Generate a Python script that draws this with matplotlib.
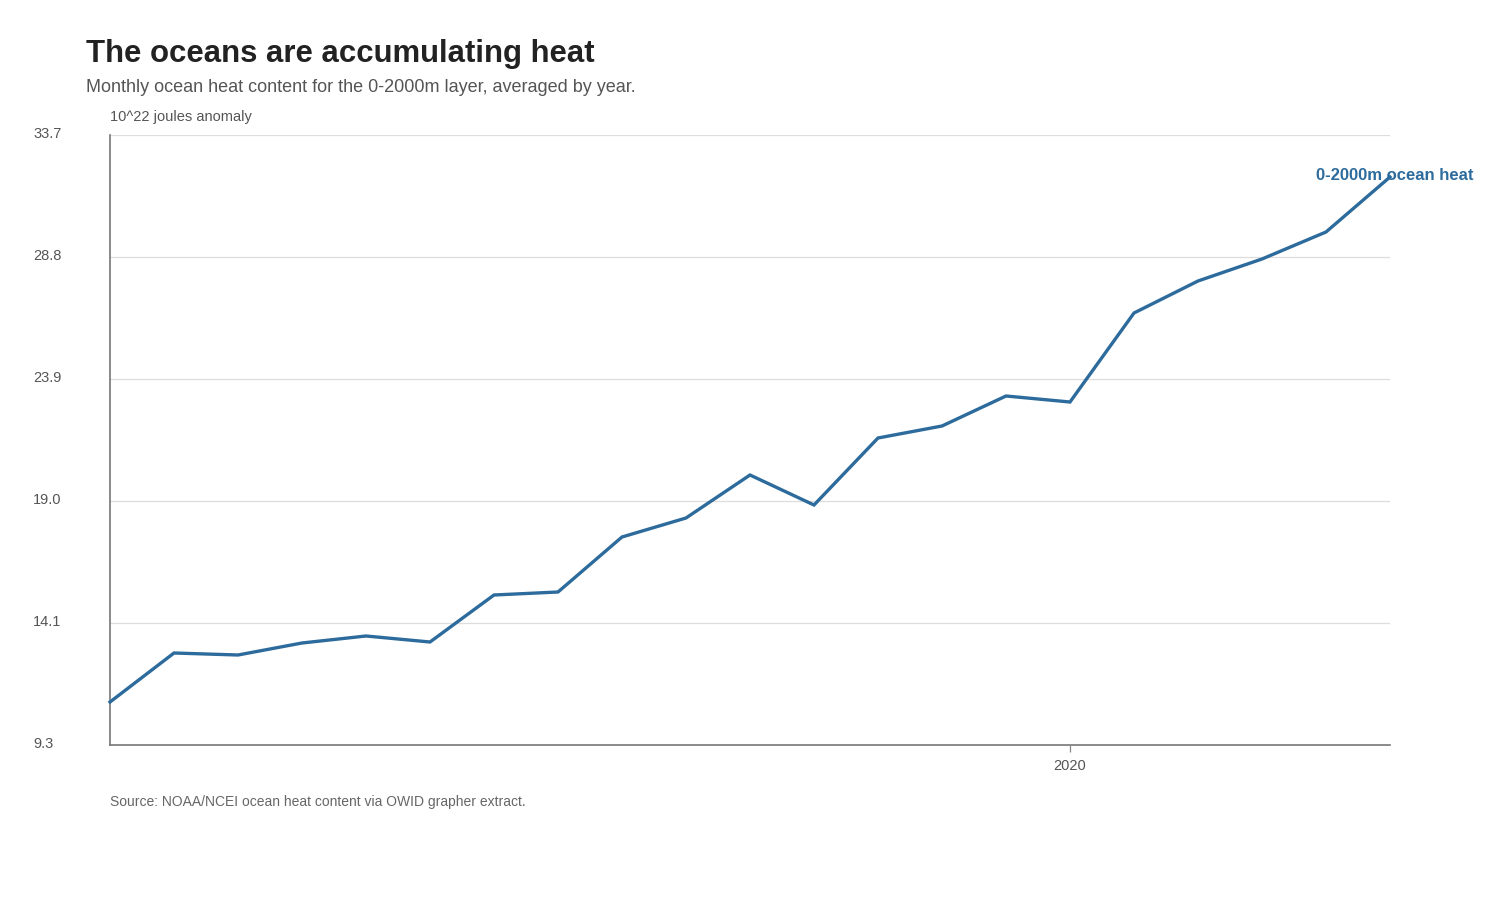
import numpy as np
import matplotlib
matplotlib.use("Agg")
from matplotlib import pyplot as plt

plt.rcParams['font.family'] = ['Liberation Sans', 'DejaVu Sans']

years = list(range(2005, 2026))
heat = [11.02, 12.98, 12.90, 13.38, 13.66, 13.42, 15.30, 15.42, 17.62, 18.38,
        20.10, 18.90, 21.58, 22.06, 23.26, 23.02, 26.58, 27.86, 28.74, 29.82, 32.02]
ytick_vals = [9.3, 14.18, 19.06, 23.94, 28.82, 33.7]
ytick_labels = ["9.3", "14.1", "19.0", "23.9", "28.8", "33.7"]
xtick_vals = [2020]
series_name = "0-2000m ocean heat"

LINE = "#2c6b9c"

fig = plt.figure(figsize=(15, 9), dpi=100)
ax = fig.add_axes([110/1500, 155/900, 1280/1500, 610/900])

ax.plot(years, heat, color=LINE, lw=2.4, clip_on=False, solid_joinstyle="miter", zorder=3)
ax.set_xlim(2005, 2025)
ax.set_ylim(ytick_vals[0], ytick_vals[-1])

for v in ytick_vals[1:]:
    ax.axhline(v, color="#dddddd", lw=0.9, zorder=1)

ax.set_yticks(ytick_vals)
ax.set_yticklabels([])
ax.tick_params(axis="y", length=0)
for v, lab in zip(ytick_vals, ytick_labels):
    ax.annotate(lab, xy=(0, v), xycoords=("figure fraction", "data"),
                xytext=(33, 1), textcoords="offset pixels",
                ha="left", va="center", fontsize=10.5, color="#555555")

ax.set_xticks(xtick_vals)
ax.set_xticklabels([str(x) for x in xtick_vals], fontsize=10.5, color="#555555")
ax.tick_params(axis="x", length=5, width=0.9, color="#888888", pad=5)

for s in ["top", "right"]:
    ax.spines[s].set_visible(False)
for s in ["left", "bottom"]:
    ax.spines[s].set_color("#777777")
    ax.spines[s].set_linewidth(1.2)

ax.annotate(series_name, xy=(years[-1], heat[-1]), xytext=(5, 1),
            textcoords="offset pixels", ha="center", va="center",
            fontsize=12, fontweight="bold", color=LINE, zorder=4)

fig.text(86/1500, 1 - 54/900, "The oceans are accumulating heat",
         fontsize=22.4, fontweight="bold", color="#222222", ha="left", va="center")
fig.text(86/1500, 1 - 87.5/900, "Monthly ocean heat content for the 0-2000m layer, averaged by year.",
         fontsize=13, color="#555555", ha="left", va="center")
fig.text(110/1500, 1 - 117.5/900, "10^22 joules anomaly",
         fontsize=10.5, color="#555555", ha="left", va="center")
fig.text(110/1500, 1 - 802/900, "Source: NOAA/NCEI ocean heat content via OWID grapher extract.",
         fontsize=10, color="#666666", ha="left", va="center")

fig.savefig("out.png", dpi=100)
